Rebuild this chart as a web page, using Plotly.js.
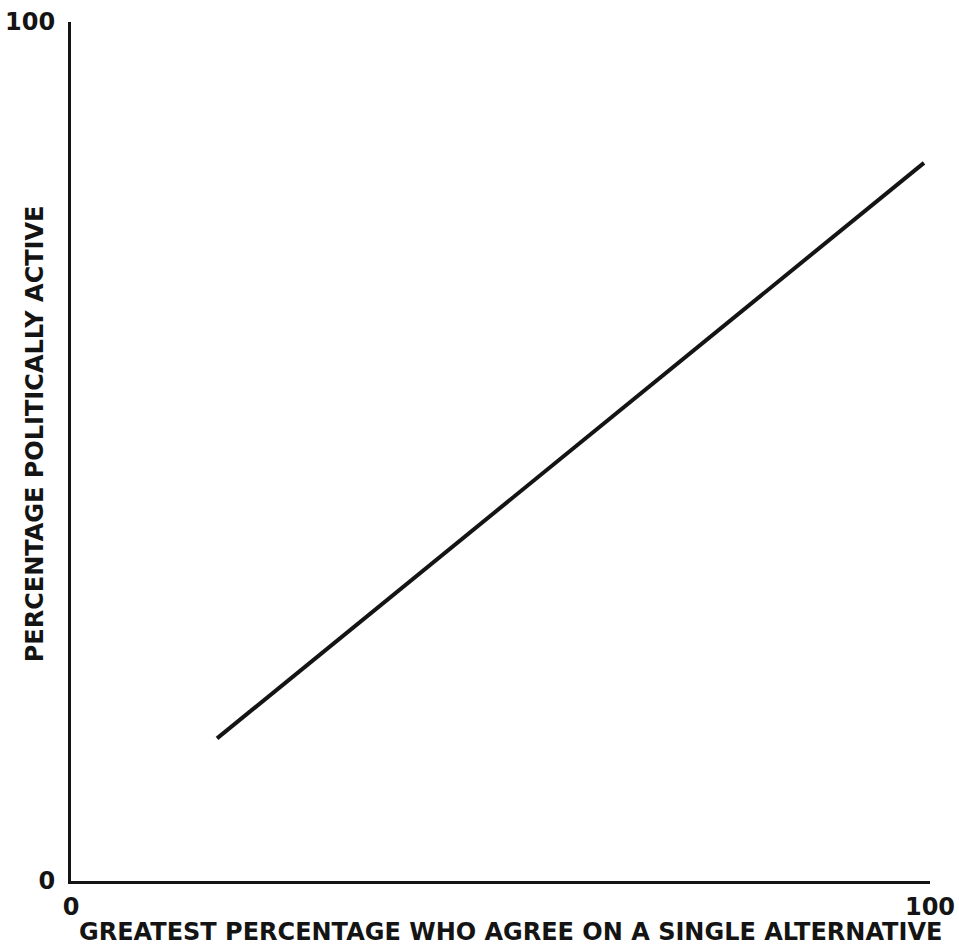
<!DOCTYPE html>
<html>
<head>
<meta charset="utf-8">
<script src="https://cdn.plot.ly/plotly-3.0.1.min.js"></script>
<style>html,body{margin:0;padding:0;background:#fff;}#chart{width:959px;height:949px;}</style>
</head>
<body>
<div id="chart"></div>
<script>
// Data
const agreeX = [17.0, 99.3];     // greatest percentage who agree on a single alternative
const activeY = [16.6, 83.6];    // percentage politically active
const xTickVals = [0, 100];
const xTickText = ["0", "100"];
const yTickVals = [0, 100];
const yTickText = ["0", "100"];
const xTitle = "GREATEST PERCENTAGE WHO AGREE ON A SINGLE ALTERNATIVE";
const yTitle = "PERCENTAGE POLITICALLY ACTIVE";

const fontFam = "DejaVu Sans, sans-serif";
const ink = "#141414";

const trace = {
  x: agreeX,
  y: activeY,
  mode: "lines",
  type: "scatter",
  line: {color: ink, width: 4},
  hoverinfo: "skip"
};

const layout = {
  width: 959,
  height: 949,
  margin: {l: 71, r: 29, t: 22, b: 68},
  paper_bgcolor: "#fff",
  plot_bgcolor: "#fff",
  showlegend: false,
  font: {family: fontFam, color: ink, size: 24, weight: "bold"},
  xaxis: {
    range: [0, 100],
    tickvals: xTickVals,
    ticktext: xTickText,
    showgrid: false,
    zeroline: false,
    showline: true,
    linecolor: ink,
    linewidth: 3,
    ticks: "",
    ticklabelstandoff: 2,
    tickfont: {family: fontFam, size: 24, color: ink, weight: "bold"},
    fixedrange: true
  },
  yaxis: {
    range: [0, 100],
    tickvals: yTickVals,
    ticktext: yTickText,
    showgrid: false,
    zeroline: false,
    showline: true,
    linecolor: ink,
    linewidth: 3,
    ticks: "",
    ticklabelstandoff: 8,
    tickfont: {family: fontFam, size: 24, color: ink, weight: "bold"},
    fixedrange: true
  },
  annotations: [
    {
      text: xTitle,
      xref: "paper", yref: "paper",
      x: 0.512, y: 0,
      xanchor: "center", yanchor: "middle",
      yshift: -51,
      showarrow: false,
      font: {family: fontFam, size: 24, color: ink, weight: "bold"}
    },
    {
      text: yTitle,
      xref: "paper", yref: "paper",
      x: 0, y: 0.52,
      xanchor: "center", yanchor: "middle",
      xshift: -36,
      textangle: -90,
      showarrow: false,
      font: {family: fontFam, size: 24, color: ink, weight: "bold"}
    }
  ]
};

Plotly.newPlot("chart", [trace], layout, {displayModeBar: false, staticPlot: true});
</script>
</body>
</html>
